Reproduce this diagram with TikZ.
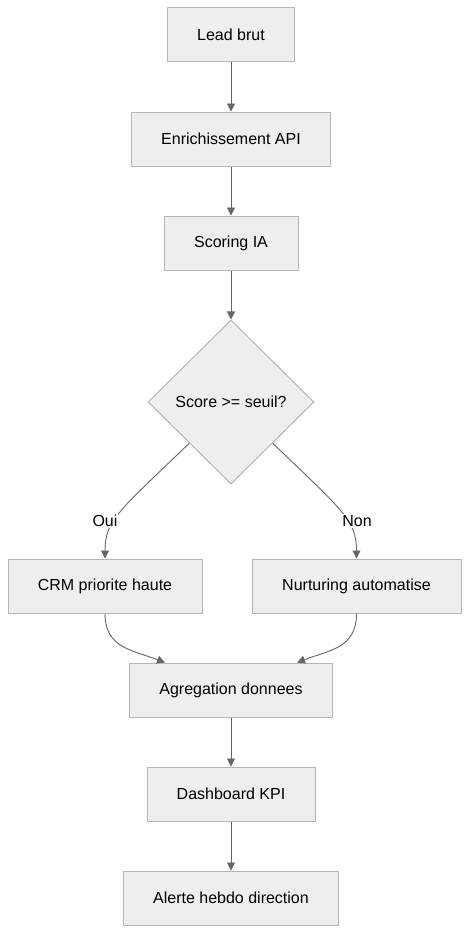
\documentclass[tikz,border=0pt]{standalone}
\usepackage{fontspec}
\setmainfont{Liberation Sans}
\usetikzlibrary{shapes.geometric,arrows.meta,calc}
\definecolor{boxfill}{HTML}{EEEEEE}
\definecolor{boxline}{HTML}{B5B5B5}
\definecolor{edgecol}{HTML}{666666}
\begin{document}
\begin{tikzpicture}[x=1pt,y=-1pt,
  box/.style={draw=boxline, fill=boxfill, line width=1pt, minimum height=54pt, inner sep=0pt, font=\fontsize{16pt}{19pt}\selectfont},
  decision/.style={diamond, draw=boxline, fill=boxfill, line width=1pt, minimum width=166pt, minimum height=164pt, inner sep=0pt, font=\fontsize{16pt}{19pt}\selectfont},
  elabel/.style={fill=white, inner sep=1pt, font=\fontsize{16pt}{19pt}\selectfont},
  flow/.style={draw=edgecol, line width=0.9pt, -{Triangle[length=8pt,width=8pt]}, color=edgecol}]
\useasboundingbox (0,0) rectangle (469,934);
\fill[white] (0,0) rectangle (469,934);
\node[box, minimum width=127pt] (lead) at (231,35) {Lead brut};
\node[box, minimum width=199pt] (enrich) at (231,139) {Enrichissement API};
\node[box, minimum width=134pt] (scoring) at (231,243) {Scoring IA};
\node[decision] (dec) at (231,402) {Score >= seuil?};
\node[box, minimum width=194pt] (crm) at (105,586) {CRM priorite haute};
\node[box, minimum width=209pt] (nurt) at (356.5,586) {Nurturing automatise};
\node[box, minimum width=203pt] (agg) at (231,690) {Agregation donnees};
\node[box, minimum width=168pt] (dash) at (231,794) {Dashboard KPI};
\node[box, minimum width=215pt] (alert) at (231,898) {Alerte hebdo direction};

\draw[flow] (lead) -- (enrich);
\draw[flow] (enrich) -- (scoring);
\draw[flow] (scoring) -- (dec);
\draw[flow] (dec.south west) .. controls (120,510) and (105,520) .. (crm.north);
\draw[flow] (dec.south east) .. controls (342,510) and (356.5,520) .. (nurt.north);
\node[elabel] (oui) at (105,521) {Oui};
\node[elabel] (non) at (357,521) {Non};
\draw[flow] (crm.south) .. controls (105,648) and (132,650) .. ([xshift=-66pt]agg.north);
\draw[flow] (nurt.south) .. controls (356.5,648) and (330,650) .. ([xshift=66pt]agg.north);
\draw[flow] (agg) -- (dash);
\draw[flow] (dash) -- (alert);
\end{tikzpicture}
\end{document}
